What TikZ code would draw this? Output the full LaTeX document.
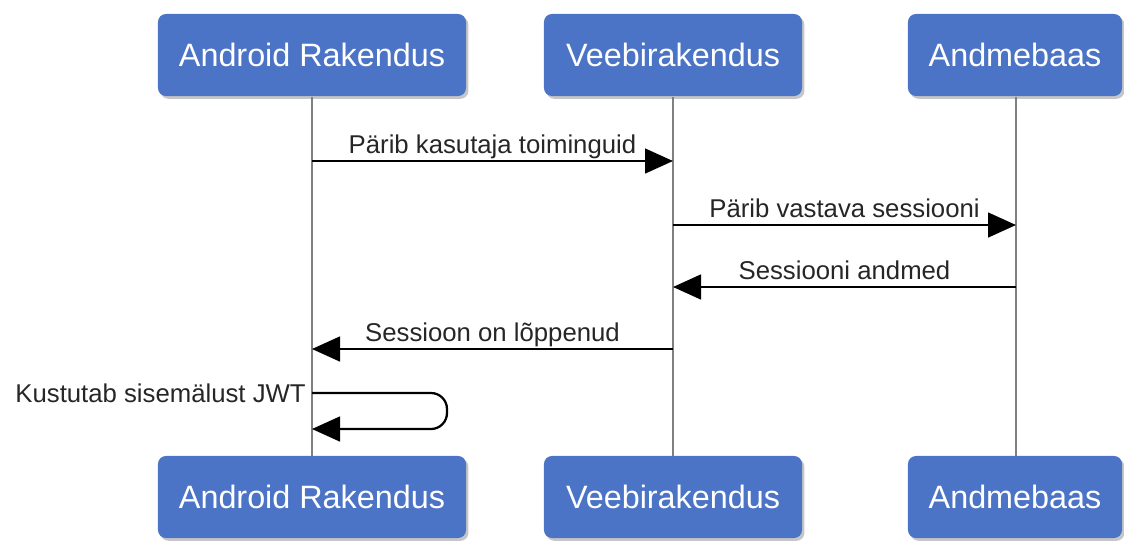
\documentclass[tikz,border=0pt]{standalone}
\usepackage{fontspec}
\setmainfont{Liberation Sans}
\usetikzlibrary{arrows.meta,shadows,positioning}

\definecolor{actorblue}{RGB}{76,116,198}
\tikzset{
  actor/.style={fill=actorblue, rounded corners=0.2cm, text=white,
    font=\fontsize{23}{27}\selectfont, minimum height=2.05cm,
    drop shadow={opacity=0.45, shadow xshift=0.06cm, shadow yshift=-0.07cm}},
  life/.style={draw=black!50, line width=1.6pt},
  msg/.style={line width=1.6pt, -{Triangle[length=0.7cm,width=0.62cm]}},
  lbl/.style={font=\fontsize{18.3}{21}\selectfont, text=black!85, inner sep=0pt}
}

\begin{document}
\begin{tikzpicture}[x=0.025cm, y=-0.025cm]
  \useasboundingbox (0,0) rectangle (1124,541);
% lifelines
  \draw[life] (312,97) coordinate (andrtop) -- (312,457) coordinate (andrbot);
  \draw[life] (673,97) coordinate (veebtop) -- (673,457) coordinate (veebbot);
  \draw[life] (1016,97) coordinate (andmtop) -- (1016,457) coordinate (andmbot);
% actors
  \node[actor, minimum width=7.7cm] (andr) at (312,55) {Android Rakendus};
  \node[actor, minimum width=6.45cm] (veeb) at (673,55) {Veebirakendus};
  \node[actor, minimum width=5.35cm] (andm) at (1015,55) {Andmebaas};
  \node[actor, minimum width=7.7cm] (andr2) at (312,497) {Android Rakendus};
  \node[actor, minimum width=6.45cm] (veeb2) at (673,497) {Veebirakendus};
  \node[actor, minimum width=5.35cm] (andm2) at (1015,497) {Andmebaas};
% messages
  \coordinate (m1a) at (andrtop |- 0,161);
  \coordinate (m1b) at (veebtop |- 0,161);
  \coordinate (m2a) at (veebtop |- 0,225);
  \coordinate (m2b) at (andmtop |- 0,225);
  \coordinate (m3a) at (andmtop |- 0,287);
  \coordinate (m3b) at (veebtop |- 0,287);
  \coordinate (m4a) at (veebtop |- 0,349);
  \coordinate (m4b) at (andrtop |- 0,349);
  \coordinate (k1) at (andrtop |- 0,393);
  \coordinate (k2) at (andrtop |- 0,429);
  \draw[msg] (m1a) -- node[lbl, anchor=base, yshift=0.2cm] (l1) {Pärib kasutaja toiminguid} (m1b);
  \draw[msg] (m2a) -- node[lbl, anchor=base, yshift=0.2cm] (l2) {Pärib vastava sessiooni} (m2b);
  \draw[msg] (m3a) -- node[lbl, anchor=base, yshift=0.2cm] (l3) {Sessiooni andmed} (m3b);
  \draw[msg] (m4a) -- node[lbl, anchor=base, yshift=0.2cm] (l4) {Sessioon on lõppenud} (m4b);
% self message
  \node[lbl, anchor=east] (l5) at ([xshift=-0.15cm]k1) {Kustutab sisemälust JWT};
  \draw[msg, rounded corners=0.4cm] (k1) -- (447,393) -- (447,429) -- (k2);
\end{tikzpicture}
\end{document}
